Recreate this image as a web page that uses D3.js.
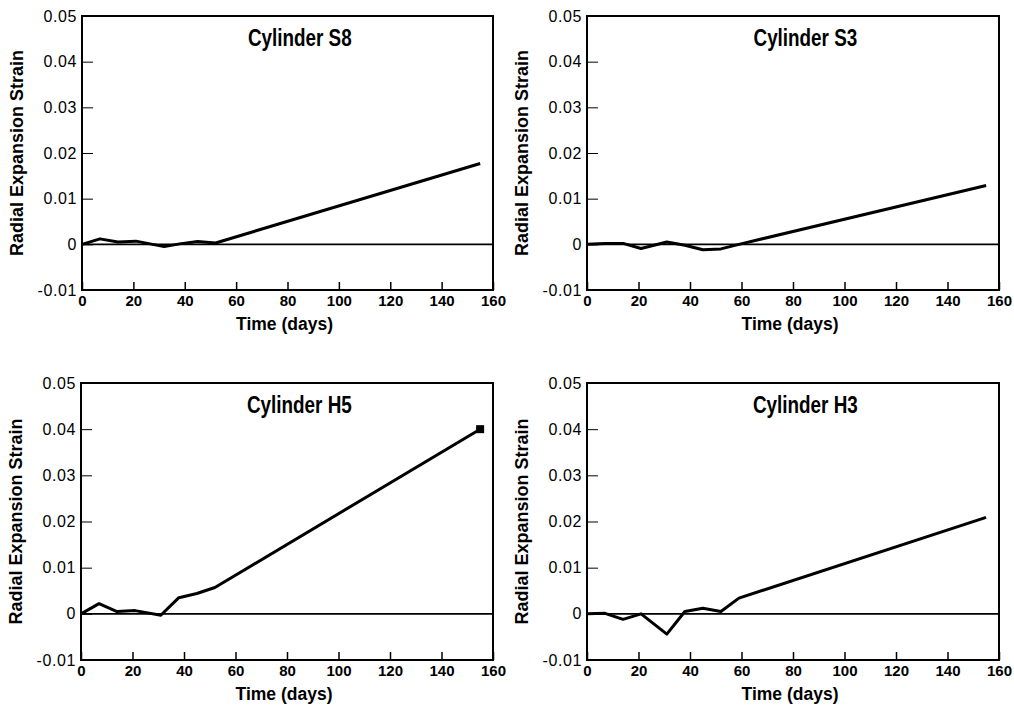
<!DOCTYPE html>
<html>
<head>
<meta charset="utf-8">
<script src="https://cdn.jsdelivr.net/npm/d3@7"></script>
<style>
  html, body { margin: 0; padding: 0; background: #fff; }
  svg { display: block; }
  .tick text { font-family: "Liberation Sans", Arial, sans-serif; fill: #000; }
  .ytick text { font-size: 16px; letter-spacing: 0.6px; }
  .xtick text { font-size: 15px; font-weight: bold; }
  .title { font-family: "Liberation Sans", Arial, sans-serif; font-weight: bold; font-size: 23px; }
  .axlabel { font-family: "Liberation Sans", Arial, sans-serif; font-weight: bold; font-size: 18px; }
  .xlabel { font-family: "Liberation Sans", Arial, sans-serif; font-weight: bold; font-size: 17.5px; }
</style>
</head>
<body>
<svg id="chart" width="1014" height="709"></svg>
<script>
// Measurement days and radial expansion strain for each cylinder
const daysS8   = [0, 7, 14, 21, 32, 38, 45, 52, 155];
const strainS8 = [0, 0.0012, 0.0005, 0.0007, -0.0005, 0.0001, 0.0006, 0.0003, 0.0177];

const daysS3   = [0, 7, 14, 21, 31, 38, 45, 52, 59, 155];
const strainS3 = [0, 0.0002, 0.0002, -0.0009, 0.0005, -0.0002, -0.0012, -0.0010, 0, 0.0129];

const daysH5   = [0, 7, 14, 21, 31, 38, 45, 52, 155];
const strainH5 = [0, 0.0022, 0.0005, 0.0007, -0.0003, 0.0035, 0.0044, 0.0057, 0.0400];

const daysH3   = [0, 7, 14, 21, 31, 38, 45, 52, 59, 155];
const strainH3 = [0, 0.0001, -0.0012, 0, -0.0044, 0.0005, 0.0012, 0.0005, 0.0034, 0.0209];

// Final measured point marked with a square on H5
const markedH5 = [[155, 0.0400]];

// Axis ticks and labels
const xTicks = [0, 20, 40, 60, 80, 100, 120, 140, 160];
const yTicks = [0.05, 0.04, 0.03, 0.02, 0.01, 0, -0.01];
const yTickLabels = ["0.05", "0.04", "0.03", "0.02", "0.01", "0", "-0.01"];

const titles = ["Cylinder S8", "Cylinder S3", "Cylinder H5", "Cylinder H3"];
const xTitle = "Time (days)";
const yTitle = "Radial Expansion Strain";

// Panel frames: left, right, top, bottom
const panels = [
  { box: [82, 493, 16, 290],  days: daysS8, strain: strainS8, title: titles[0], marks: [] },
  { box: [587, 999, 16, 290], days: daysS3, strain: strainS3, title: titles[1], marks: [] },
  { box: [81, 493, 383, 660], days: daysH5, strain: strainH5, title: titles[2], marks: markedH5 },
  { box: [587, 999, 383, 660], days: daysH3, strain: strainH3, title: titles[3], marks: [] }
];

const svg = d3.select("#chart");

panels.forEach(p => {
  const [L, R, T, B] = p.box;
  const x = d3.scaleLinear().domain([0, 160]).range([L, R]);
  const y = d3.scaleLinear().domain([-0.01, 0.05]).range([B, T]);
  const g = svg.append("g");

  // zero reference line
  g.append("line")
    .attr("x1", x(0)).attr("x2", x(160))
    .attr("y1", y(0)).attr("y2", y(0))
    .attr("stroke", "#000").attr("stroke-width", 1.6);

  // y axis with inward ticks
  const yAxis = d3.axisLeft(y)
    .tickValues(yTicks)
    .tickFormat((d, i) => yTickLabels[i])
    .tickSize(-11)
    .tickPadding(5);
  const ya = g.append("g").attr("class", "ytick").attr("transform", `translate(${L},0)`).call(yAxis);
  ya.select(".domain").remove();
  ya.selectAll(".tick line").attr("stroke", "#000").attr("stroke-width", 1);

  // x axis with inward ticks
  const xAxis = d3.axisBottom(x)
    .tickValues(xTicks)
    .tickFormat(d3.format("d"))
    .tickSize(-8)
    .tickPadding(5);
  const xa = g.append("g").attr("class", "xtick").attr("transform", `translate(0,${B})`).call(xAxis);
  xa.select(".domain").remove();
  xa.selectAll(".tick line").attr("stroke", "#000").attr("stroke-width", 1.5);

  // frame
  g.append("rect")
    .attr("x", L).attr("y", T)
    .attr("width", R - L).attr("height", B - T)
    .attr("fill", "none").attr("stroke", "#000").attr("stroke-width", 2);

  // strain history
  const pts = p.days.map((d, i) => [d, p.strain[i]]);
  g.append("path")
    .datum(pts)
    .attr("fill", "none")
    .attr("stroke", "#000")
    .attr("stroke-width", 3)
    .attr("stroke-linejoin", "round")
    .attr("d", d3.line().x(d => x(d[0])).y(d => y(d[1])));

  g.selectAll("rect.mark")
    .data(p.marks)
    .join("rect")
    .attr("class", "mark")
    .attr("x", d => x(d[0]) - 4).attr("y", d => y(d[1]) - 4)
    .attr("width", 8).attr("height", 8)
    .attr("fill", "#000");

  // condensed bold title
  g.append("text")
    .attr("class", "title")
    .attr("transform", `translate(${L + 0.53 * (R - L)},${T + 30}) scale(0.82,1)`)
    .attr("text-anchor", "middle")
    .text(p.title);

  g.append("text")
    .attr("class", "xlabel")
    .attr("x", (L + R) / 2 - 3).attr("y", B + 40)
    .attr("text-anchor", "middle")
    .text(xTitle);

  g.append("text")
    .attr("class", "axlabel")
    .attr("transform", `translate(${L - 59},${(T + B) / 2}) rotate(-90)`)
    .attr("text-anchor", "middle")
    .text(yTitle);
});
</script>
</body>
</html>
